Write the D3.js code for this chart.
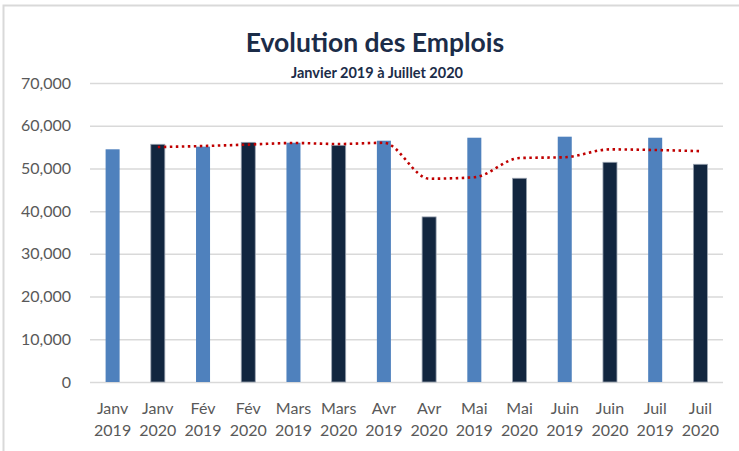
<!DOCTYPE html>
<html>
<head>
<meta charset="utf-8">
<script src="https://cdn.jsdelivr.net/npm/d3@7"></script>
<style>
  body { margin: 0; background: #fff; }
  svg { display: block; font-family: Lato, "Open Sans", sans-serif; }
</style>
</head>
<body>
<div id="chart"></div>
<script>
// categories (mois + année)
const categories = ["Janv 2019", "Janv 2020", "Fév 2019", "Fév 2020", "Mars 2019", "Mars 2020",
  "Avr 2019", "Avr 2020", "Mai 2019", "Mai 2020", "Juin 2019", "Juin 2020", "Juil 2019", "Juil 2020"]

// nombre d'emplois
const emplois = [54480, 55650, 55090, 56110, 56020, 55410, 56490, 38650, 57190, 47700, 57430, 51440, 57190, 50970]

// moyenne mobile (pointillés rouges), pas de valeur pour le premier mois
const moyenneMobile = [null, 55000, 55250, 55580, 55950, 55720, 56000, 47600, 47930, 52440, 52620, 54460, 54310, 54040]

const yTicks = [0, 10000, 20000, 30000, 40000, 50000, 60000, 70000]

const width = 739
const height = 451
const margin = {top: 83, right: 16, bottom: 69, left: 90}

let svg = d3.select("#chart")
    .append("svg")
    .attr("width", width)
    .attr("height", height)

// cadre gris (gauche + haut)
svg.append("path")
    .attr("d", "M3.5,451 V5.5 H739")
    .attr("fill", "none")
    .attr("stroke", "#d9d9d9")
    .attr("stroke-width", 2)

var x = d3.scaleBand()
    .domain(categories)
    .range([margin.left, width - margin.right])
    .paddingInner(0.69)
    .paddingOuter(0.345)

var y = d3.scaleLinear()
    .domain([0, 70000])
    .range([height - margin.bottom, margin.top])

// axe Y + grille
let gy = svg.append("g")
    .attr("transform", "translate(" + margin.left + ",0)")
    .call(d3.axisLeft(y)
        .tickValues(yTicks)
        .tickFormat(d3.format(","))
        .tickSize(-(width - margin.left - margin.right))
        .tickPadding(19))
gy.select(".domain").remove()
gy.selectAll(".tick line").attr("stroke", "#d9d9d9").attr("stroke-width", 1.5)
gy.selectAll(".tick text")
    .attr("fill", "#595959")
    .style("font-size", "16px")
    .style("font-family", "Lato, sans-serif")

// axe X (deux lignes)
let gx = svg.append("g")
    .attr("transform", "translate(0," + y(0) + ")")
    .call(d3.axisBottom(x).tickSize(0))
gx.select(".domain").remove()
gx.selectAll(".tick text")
    .attr("fill", "#595959")
    .style("font-size", "16px")
    .style("font-family", "Lato, sans-serif")
    .attr("y", 0).attr("dy", null)
    .text(null)
    .each(function (d) {
        let parts = d.split(" ")
        d3.select(this).append("tspan").attr("x", 0).attr("y", 32).text(parts[0])
        d3.select(this).append("tspan").attr("x", 0).attr("y", 54).text(parts[1])
    })

// barres
svg.selectAll(".bar")
    .data(categories)
    .enter().append("rect")
    .attr("class", "bar")
    .attr("x", function (d) { return x(d) })
    .attr("width", x.bandwidth())
    .attr("y", function (d, i) { return y(emplois[i]) })
    .attr("height", function (d, i) { return y(0) - y(emplois[i]) })
    .attr("fill", function (d) { return d.endsWith("2019") ? "#4f81bd" : "#12263f" })
    .attr("stroke", function (d) { return d.endsWith("2019") ? "none" : "#9aa3b0" })
    .attr("stroke-width", 0.8)

// moyenne mobile en pointillés
let line = d3.line()
    .defined(function (d) { return d != null })
    .x(function (d, i) { return x(categories[i]) + x.bandwidth() / 2 })
    .y(function (d) { return y(d) })
    .curve(d3.curveMonotoneX)

svg.append("path")
    .datum(moyenneMobile)
    .attr("d", line)
    .attr("fill", "none")
    .attr("stroke", "#c00000")
    .attr("stroke-width", 2.6)
    .attr("stroke-dasharray", "2.5,3.5")

// titre
svg.append("text")
    .attr("x", 375)
    .attr("y", 51.5)
    .attr("text-anchor", "middle")
    .attr("fill", "#1b2c48")
    .style("font-size", "26.5px")
    .style("font-weight", "bold")
    .text("Evolution des Emplois")

// sous-titre avec fond blanc qui coupe la ligne des 70,000
svg.append("rect")
    .attr("x", 278)
    .attr("y", 64)
    .attr("width", 197)
    .attr("height", 18)
    .attr("fill", "#fff")

svg.append("text")
    .attr("x", 377)
    .attr("y", 77.5)
    .attr("text-anchor", "middle")
    .attr("fill", "#1b2c48")
    .style("font-size", "14.5px")
    .style("font-weight", "bold")
    .text("Janvier 2019 à Juillet 2020")
</script>
</body>
</html>
